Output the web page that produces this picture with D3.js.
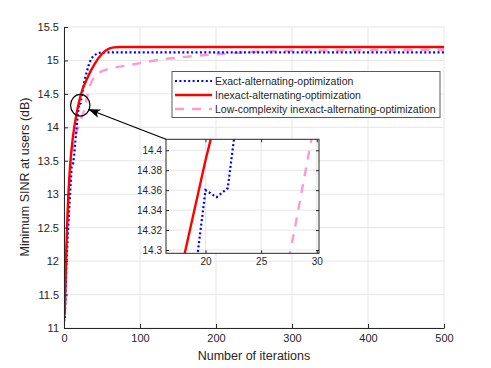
<!DOCTYPE html>
<html>
<head>
<meta charset="utf-8">
<script src="https://cdn.jsdelivr.net/npm/d3@7"></script>
<style>
  body { margin: 0; background: #fff; }
  text { font-family: "Liberation Sans", Arial, sans-serif; fill: #262626; }
</style>
</head>
<body>
<svg id="chart" width="491" height="368"></svg>
<script>

// Data
const exactIters = [1,2,3,4,5,6,7,8,9,10,11,12,13,14,15,16,17,18,19,20,21,22,23,24,25,27,30,33,36,40,45,50,500];
const exactVals  = [11.15,11.55,11.9,12.15,12.4,12.6,12.8,13.0,13.2,13.4,13.43,13.46,13.55,13.65,13.8,13.92,14.05,14.17,14.27,14.36,14.353,14.362,14.45,14.52,14.58,14.7,14.83,14.95,15.03,15.08,15.11,15.12,15.12];

const inexactIters = [1,2,3,4,5,6,7,8,9,10,12,14,16,18,20,22,25,30,35,40,45,50,55,60,65,75,500];
const inexactVals  = [11.2,11.7,12.15,12.5,12.8,13.05,13.25,13.42,13.56,13.68,13.88,14.04,14.17,14.29,14.39,14.48,14.59,14.72,14.84,14.94,15.03,15.1,15.15,15.18,15.195,15.2,15.2];

const lowIters = [1,2,3,4,5,6,7,8,10,12,14,16,18,20,22,24,26,27,28,29,30,32,34,37,40,45,50,60,80,100,130,175,210,250,300,400,500];
const lowVals  = [11.1,11.6,12.05,12.4,12.7,12.95,13.15,13.3,13.55,13.72,13.85,13.92,13.98,14.04,14.1,14.17,14.23,14.265,14.32,14.38,14.44,14.53,14.62,14.7,14.75,14.81,14.84,14.88,14.92,14.96,15.02,15.07,15.1,15.13,15.145,15.155,15.16];

const seriesNames = ["Exact-alternating-optimization", "Inexact-alternating-optimization", "Low-complexity inexact-alternating-optimization"];

const xTicks = [0,100,200,300,400,500];
const yTicks = [11,11.5,12,12.5,13,13.5,14,14.5,15,15.5];
const insetXTicks = [20,25,30];
const insetYTicks = [14.3,14.32,14.34,14.36,14.38,14.4];

// zoomed region marker (data coords)
const zoomCenter = [21.4, 14.33];

const svg = d3.select("#chart");
const axisColor = "#262626";
const gridColor = "#e6e6e6";

const styles = [
  { color: "#0000ff", width: 2.2, dash: "2,2.4" },
  { color: "#ff0000", width: 2.4, dash: null },
  { color: "#ff9acb", width: 2.4, dash: "9,8" }
];

const series = [
  exactIters.map((d, i) => [d, exactVals[i]]),
  inexactIters.map((d, i) => [d, inexactVals[i]]),
  lowIters.map((d, i) => [d, lowVals[i]])
];

// Main axes
const x = d3.scaleLinear().domain([0, 500]).range([64, 444]);
const y = d3.scaleLinear().domain([11, 15.5]).range([328, 27]);

// grid
const grid = svg.append("g");
grid.selectAll(".gx").data(xTicks).join("line")
  .attr("x1", d => x(d)).attr("x2", d => x(d))
  .attr("y1", y.range()[0]).attr("y2", y.range()[1])
  .attr("stroke", gridColor);
grid.selectAll(".gy").data(yTicks).join("line")
  .attr("x1", x.range()[0]).attr("x2", x.range()[1])
  .attr("y1", d => y(d)).attr("y2", d => y(d))
  .attr("stroke", gridColor);

svg.append("clipPath").attr("id", "mainClip").append("rect")
  .attr("x", 64).attr("y", 27).attr("width", 380).attr("height", 301);

const line = d3.line().x(d => x(d[0])).y(d => y(d[1]));

// draw low-complexity first, then exact, then inexact on top
const order = [2, 0, 1];
svg.append("g").attr("clip-path", "url(#mainClip)")
  .selectAll("path").data(order).join("path")
  .attr("d", i => line(series[i]))
  .attr("fill", "none")
  .attr("stroke", i => styles[i].color)
  .attr("stroke-width", i => styles[i].width)
  .attr("stroke-dasharray", i => styles[i].dash);

// axes
const xAxis = svg.append("g").attr("transform", `translate(0,${y(11)})`)
  .call(d3.axisBottom(x).tickValues(xTicks).tickSizeInner(-4).tickSizeOuter(0).tickPadding(6));
const yAxis = svg.append("g").attr("transform", `translate(${x(0)},0)`)
  .call(d3.axisLeft(y).tickValues(yTicks).tickFormat(d3.format("~g")).tickSizeInner(-4).tickSizeOuter(0).tickPadding(5));
[xAxis, yAxis].forEach(a => {
  a.selectAll("path, line").attr("stroke", axisColor);
  a.selectAll("text").attr("font-size", 11).attr("fill", axisColor);
});

svg.append("text").attr("x", 254).attr("y", 360)
  .attr("text-anchor", "middle").attr("font-size", 12.5)
  .text("Number of iterations");
svg.append("text").attr("transform", "translate(29,177) rotate(-90)")
  .attr("text-anchor", "middle").attr("font-size", 12.5)
  .text("Minimum SINR at users (dB)");

// Legend
const legend = svg.append("g");
legend.append("rect").attr("x", 172).attr("y", 71.5).attr("width", 268).attr("height", 46)
  .attr("fill", "#fff").attr("stroke", "#5a5a5a").attr("stroke-width", 1);
seriesNames.forEach((name, i) => {
  const ly = 81 + i * 14;
  legend.append("line").attr("x1", 175).attr("x2", 212).attr("y1", ly).attr("y2", ly)
    .attr("stroke", styles[i].color).attr("stroke-width", styles[i].width)
    .attr("stroke-dasharray", styles[i].dash);
  legend.append("text").attr("x", 215).attr("y", ly + 3.7).attr("font-size", 10.5).attr("fill", "#000").text(name);
});

// Inset
const xi = d3.scaleLinear().domain([16.45, 30.2]).range([166, 319]);
const yi = d3.scaleLinear().domain([14.2967, 14.411]).range([253.3, 139.3]);
const inset = svg.append("g");
inset.append("rect").attr("x", 166).attr("y", 139.3).attr("width", 153).attr("height", 114)
  .attr("fill", "#fff");
inset.selectAll(".gx").data(insetXTicks).join("line")
  .attr("x1", d => xi(d)).attr("x2", d => xi(d))
  .attr("y1", yi.range()[0]).attr("y2", yi.range()[1]).attr("stroke", gridColor);
inset.selectAll(".gy").data(insetYTicks).join("line")
  .attr("x1", xi.range()[0]).attr("x2", xi.range()[1])
  .attr("y1", d => yi(d)).attr("y2", d => yi(d)).attr("stroke", gridColor);

svg.append("clipPath").attr("id", "insetClip").append("rect")
  .attr("x", 166).attr("y", 139.3).attr("width", 153).attr("height", 114);
const lineI = d3.line().x(d => xi(d[0])).y(d => yi(d[1]));
inset.append("g").attr("clip-path", "url(#insetClip)")
  .selectAll("path").data(order).join("path")
  .attr("d", i => lineI(series[i]))
  .attr("fill", "none")
  .attr("stroke", i => styles[i].color)
  .attr("stroke-width", i => styles[i].width)
  .attr("stroke-dasharray", i => styles[i].dash);

const iaxes = [
  inset.append("g").attr("transform", `translate(0,${yi.range()[0]})`)
    .call(d3.axisBottom(xi).tickValues(insetXTicks).tickSizeInner(-3).tickSizeOuter(0).tickPadding(5)),
  inset.append("g").attr("transform", `translate(0,${yi.range()[1]})`)
    .call(d3.axisTop(xi).tickValues(insetXTicks).tickSizeInner(-3).tickSizeOuter(0).tickFormat("")),
  inset.append("g").attr("transform", `translate(${xi.range()[0]},0)`)
    .call(d3.axisLeft(yi).tickValues(insetYTicks).tickFormat(d3.format("~g")).tickSizeInner(-3).tickSizeOuter(0).tickPadding(4)),
  inset.append("g").attr("transform", `translate(${xi.range()[1]},0)`)
    .call(d3.axisRight(yi).tickValues(insetYTicks).tickSizeInner(-3).tickSizeOuter(0).tickFormat(""))
];
iaxes.forEach(a => {
  a.select(".domain").remove();
  a.selectAll("line").attr("stroke", axisColor);
  a.selectAll("text").attr("font-size", 10).attr("fill", axisColor);
});
inset.append("rect").attr("x", 166).attr("y", 139.3).attr("width", 153).attr("height", 114)
  .attr("fill", "none").attr("stroke", axisColor).attr("stroke-width", 1);

// ellipse marking the zoomed region and arrow to the inset
svg.append("ellipse")
  .attr("cx", x(zoomCenter[0])).attr("cy", y(zoomCenter[1]))
  .attr("rx", 9.7).attr("ry", 10.8)
  .attr("fill", "none").attr("stroke", "#000").attr("stroke-width", 1.2);

svg.append("defs").append("marker")
  .attr("id", "arrowHead").attr("viewBox", "0 -5 12 10")
  .attr("refX", 12).attr("refY", 0)
  .attr("markerWidth", 12).attr("markerHeight", 10)
  .attr("markerUnits", "userSpaceOnUse")
  .attr("orient", "auto")
  .append("path").attr("d", "M0,-4.5L12,0L0,4.5L3,0Z").attr("fill", "#000");

svg.append("line")
  .attr("x1", xi.range()[0]).attr("y1", yi.range()[1])
  .attr("x2", x(32)).attr("y2", y(14.27))
  .attr("stroke", "#000").attr("stroke-width", 1.2)
  .attr("marker-end", "url(#arrowHead)");

</script>
</body>
</html>
